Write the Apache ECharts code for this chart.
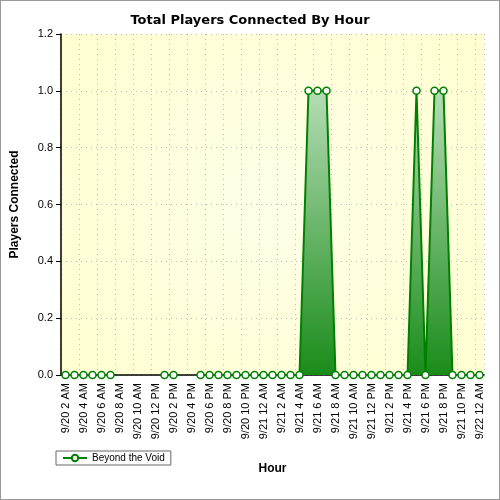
<!DOCTYPE html><html><head><meta charset="utf-8"><script src="https://cdn.jsdelivr.net/npm/echarts@6/dist/echarts.min.js"></script>
<style>html,body{margin:0;padding:0}#c{width:498px;height:498px;border:1px solid #999}</style></head><body><div id="c"></div><script>
const hours=['12 AM','1 AM','2 AM','3 AM','4 AM','5 AM','6 AM','7 AM','8 AM','9 AM','10 AM','11 AM','12 PM','1 PM','2 PM','3 PM','4 PM','5 PM','6 PM','7 PM','8 PM','9 PM','10 PM','11 PM'];
const categories=[];
for(let h=2;h<24;h++)categories.push('9/20 '+hours[h]);
for(let h=0;h<24;h++)categories.push('9/21 '+hours[h]);
categories.push('9/22 12 AM');
const players=[0,0,0,0,0,0,null,null,null,null,null,0,0,null,null,0,0,0,0,0,0,0,0,0,0,0,0,1,1,1,0,0,0,0,0,0,0,0,0,1,0,1,1,0,0,0,0];
const chart=echarts.init(document.getElementById('c'));
chart.setOption({
 backgroundColor:'#fff',
 title:{text:'Total Players Connected By Hour',left:'center',top:8,textStyle:{fontSize:13,fontWeight:'bold',color:'#000',fontFamily:'DejaVu Sans'}},
 grid:{left:58,right:15,top:33,bottom:124},
 legend:{left:55,top:450,orient:'horizontal',itemWidth:24,itemHeight:8,borderColor:'#666',borderWidth:1,borderRadius:0,padding:[2,6],textStyle:{fontSize:10,color:'#000'},data:['Beyond the Void']},
 xAxis:{type:'category',data:categories,boundaryGap:true,name:'Hour',nameLocation:'middle',nameGap:88,nameTextStyle:{fontWeight:'bold',fontSize:12,color:'#000'},
  axisLine:{lineStyle:{color:'#000',width:1.5}},axisTick:{alignWithLabel:true,interval:0,lineStyle:{color:'#000'}},
  axisLabel:{interval:1,rotate:90,fontSize:11,color:'#000'},splitLine:{show:true,interval:1,lineStyle:{color:'#bbb',type:[1,4]}}},
 yAxis:{type:'value',min:0,max:1.2,interval:0.2,name:'Players Connected',nameLocation:'middle',nameGap:40,nameTextStyle:{fontWeight:'bold',fontSize:12,color:'#000'},
  axisLine:{show:true,lineStyle:{color:'#000',width:1.5}},axisTick:{show:true,lineStyle:{color:'#000'}},
  axisLabel:{formatter:v=>v.toFixed(1),fontSize:11,color:'#000'},splitLine:{lineStyle:{color:'#bbb',type:[1,4]}}},
 series:[{name:'Beyond the Void',type:'line',data:players,symbol:'circle',symbolSize:7,showAllSymbol:true,
  itemStyle:{color:'#fff',borderColor:'#008000',borderWidth:1.5},
  lineStyle:{color:'#008000',width:2},
  areaStyle:{color:new echarts.graphic.LinearGradient(0,0,0,1,[{offset:0,color:'#b5dcb5'},{offset:1,color:'#1a8c1a'}]),opacity:1}}],
 graphic:[{type:'rect',z:-1,shape:{x:58,y:33,width:425,height:341},style:{fill:new echarts.graphic.RadialGradient(0.5,0.5,0.8,[{offset:0,color:'#ffffe8'},{offset:1,color:'#ffffd0'}])}}]
});
</script></body></html>
